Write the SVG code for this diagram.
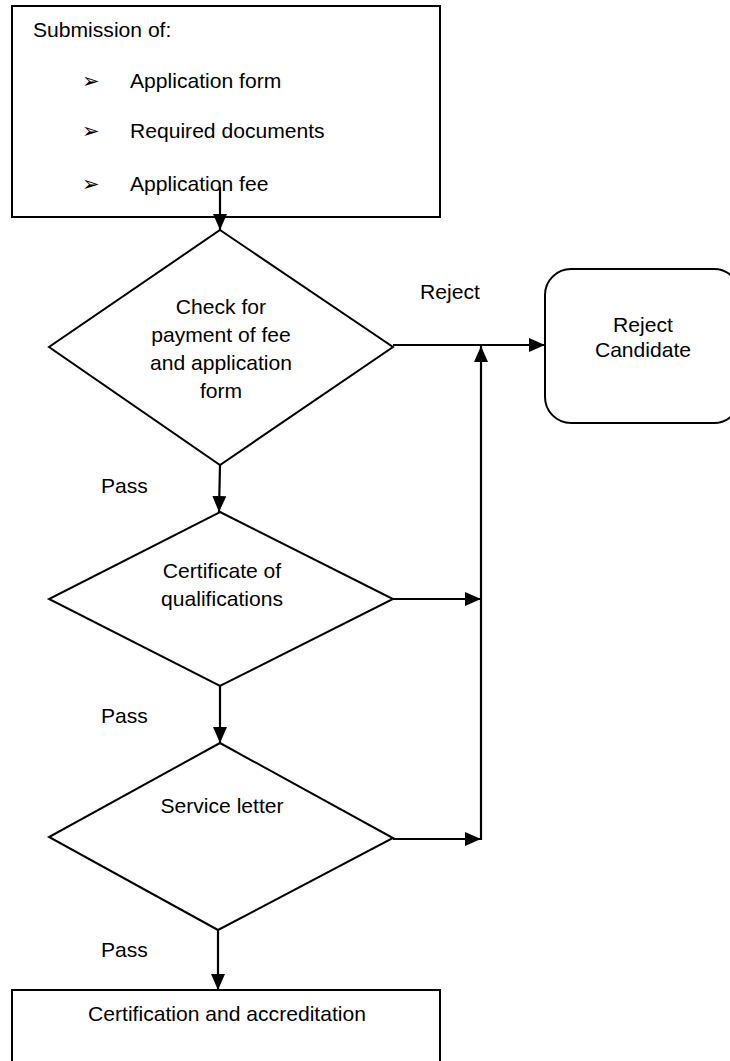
<svg xmlns="http://www.w3.org/2000/svg" width="730" height="1061" viewBox="0 0 730 1061">
<style>
.shape{fill:#fff;stroke:#000;stroke-width:2}
.line{fill:none;stroke:#000;stroke-width:2.2}
text{font-family:"Liberation Sans",Arial,sans-serif;font-size:21.1px;fill:#000}
.c{text-anchor:middle}
.bul{font-family:"DejaVu Sans",sans-serif;font-size:21px}
</style>
<defs>
<marker id="ah" markerUnits="userSpaceOnUse" markerWidth="16" markerHeight="14" refX="16" refY="7" orient="auto">
<path d="M0,0 L16,7 L0,14 Z" fill="#000"/>
</marker>
</defs>
<rect width="730" height="1061" fill="#fff"/>
<g id="submission">
<rect class="shape" x="12" y="6" width="428" height="211"/>
<text x="33" y="37">Submission of:</text>
<text class="bul" x="82" y="88">➢</text>
<text x="130" y="88">Application form</text>
<text class="bul" x="82" y="138">➢</text>
<text x="130" y="138">Required documents</text>
<text class="bul" x="82" y="191">➢</text>
<text x="130" y="191">Application fee</text>
</g>
<g id="check-fee">
<polygon class="shape" points="220,230 393,347 220,465 49,347"/>
<text class="c" x="221" y="314">Check for</text>
<text class="c" x="221" y="342">payment of fee</text>
<text class="c" x="221" y="370">and application</text>
<text class="c" x="221" y="398">form</text>
</g>
<g id="certificate">
<polygon class="shape" points="220,512 393,599 220,686 49,599"/>
<text class="c" x="222" y="578">Certificate of</text>
<text class="c" x="222" y="606">qualifications</text>
</g>
<g id="service-letter">
<polygon class="shape" points="220,743 393,838 218,930 49,837"/>
<text class="c" x="222" y="813">Service letter</text>
</g>
<g id="reject-candidate">
<rect class="shape" x="545" y="269" width="195" height="154" rx="26" ry="26"/>
<text class="c" x="643" y="332">Reject</text>
<text class="c" x="643" y="357">Candidate</text>
</g>
<g id="certification">
<rect class="shape" x="12" y="990" width="428" height="90"/>
<text class="c" x="227" y="1021">Certification and accreditation</text>
</g>
<g id="connectors">
<line class="line" x1="220" y1="187" x2="220" y2="230" marker-end="url(#ah)"/>
<line class="line" x1="220" y1="465" x2="219" y2="512" marker-end="url(#ah)"/>
<line class="line" x1="220" y1="686" x2="220" y2="743" marker-end="url(#ah)"/>
<line class="line" x1="218" y1="930" x2="218" y2="990" marker-end="url(#ah)"/>
<line class="line" x1="393" y1="345" x2="545" y2="345" marker-end="url(#ah)"/>
<line class="line" x1="393" y1="599" x2="481" y2="599" marker-end="url(#ah)"/>
<line class="line" x1="393" y1="839" x2="481" y2="839" marker-end="url(#ah)"/>
<line class="line" x1="481" y1="840" x2="481" y2="346" marker-end="url(#ah)"/>
<text x="420" y="299">Reject</text>
<text x="101" y="493">Pass</text>
<text x="101" y="723">Pass</text>
<text x="101" y="957">Pass</text>
</g>
</svg>
